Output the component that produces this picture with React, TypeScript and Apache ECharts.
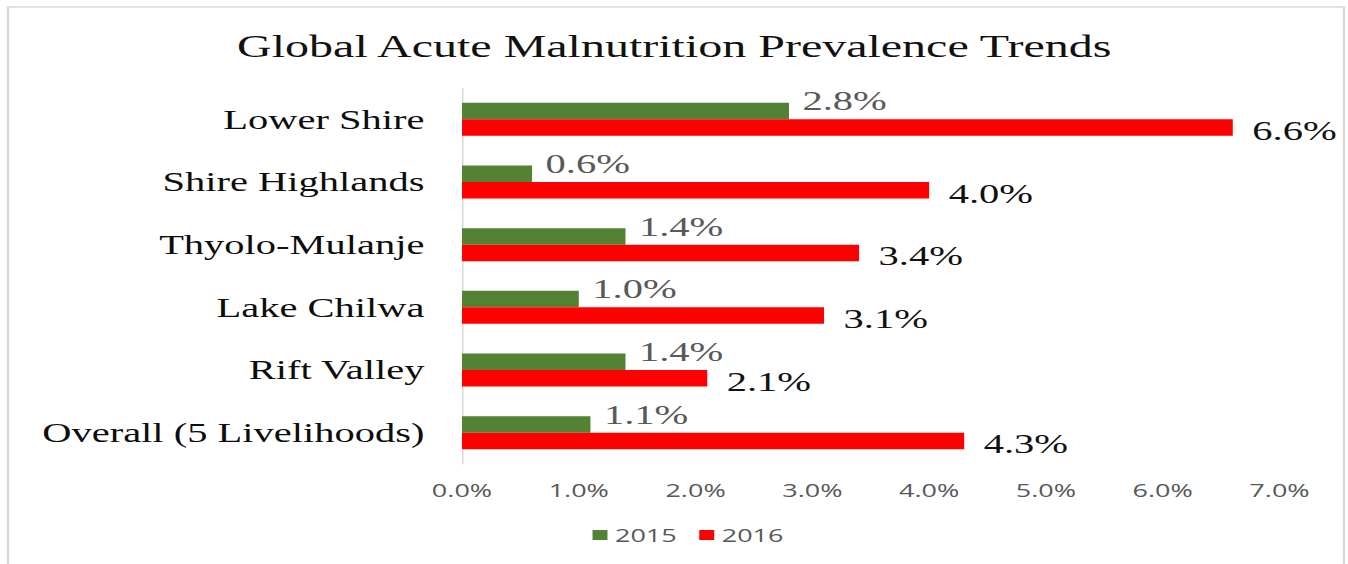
import React, { useEffect, useRef } from "react";
import * as echarts from "echarts";

const categories = [
  "Lower Shire",
  "Shire Highlands",
  "Thyolo-Mulanje",
  "Lake Chilwa",
  "Rift Valley",
  "Overall (5 Livelihoods)",
];
const values2015 = [2.8, 0.6, 1.4, 1.0, 1.4, 1.1];
const values2016 = [6.6, 4.0, 3.4, 3.1, 2.1, 4.3];
const seriesNames = ["2015", "2016"];
const xTicks = { min: 0, max: 7, interval: 1 };
const titleText = "Global Acute Malnutrition Prevalence Trends";

const PAGE_W = 1348;
const PAGE_H = 564;
const SX = 1.5; // horizontal stretch of the reference rendering
const W = PAGE_W / SX;

const pct = (v: number) => v.toFixed(1) + "%";

export default function App() {
  const ref = useRef<HTMLDivElement>(null);
  useEffect(() => {
    if (!ref.current) return;
    const chart = echarts.init(ref.current, undefined, { renderer: "svg" });
    chart.setOption({
      animation: false,
      backgroundColor: "#ffffff",
      title: {
        text: titleText,
        left: "center",
        top: 25,
        textStyle: {
          fontFamily: "Liberation Serif",
          fontSize: 32,
          fontWeight: "normal",
          color: "#111111",
        },
      },
      legend: {
        data: seriesNames,
        left: 390,
        top: 521,
        icon: "rect",
        itemWidth: 10,
        itemHeight: 10,
        itemGap: 15,
        textStyle: { fontFamily: "Open Sans", fontSize: 18, color: "#595959" },
      },
      grid: { left: 308, right: W - 1279 / SX, top: 88, bottom: PAGE_H - 464, containLabel: false },
      xAxis: {
        type: "value",
        min: xTicks.min,
        max: xTicks.max,
        interval: xTicks.interval,
        axisLine: { show: false },
        axisTick: { show: false },
        splitLine: { show: false },
        axisLabel: {
          formatter: (v: number) => pct(v),
          margin: 17,
          fontFamily: "Open Sans",
          fontSize: 18,
          color: "#595959",
        },
      },
      yAxis: {
        type: "category",
        data: categories,
        inverse: true,
        axisLine: { show: true, lineStyle: { color: "#d9d9d9", width: 1 } },
        axisTick: { show: false },
        axisLabel: {
          margin: 25,
          fontFamily: "Liberation Serif",
          fontSize: 27,
          color: "#0d0d0d",
        },
      },
      series: [
        {
          name: seriesNames[0],
          type: "bar",
          data: values2015,
          barWidth: 16.5,
          barGap: "0%",
          z: 2,
          itemStyle: { color: "#548235" },
          label: {
            show: true,
            position: "right",
            distance: 9,
            offset: [0, -10],
            formatter: (p: any) => pct(p.value),
            fontFamily: "Liberation Serif",
            fontSize: 27,
            color: "#595959",
          },
        },
        {
          name: seriesNames[1],
          type: "bar",
          data: values2016,
          barWidth: 16.5,
          barGap: "0%",
          z: 3,
          itemStyle: { color: "#ff0000" },
          label: {
            show: true,
            position: "right",
            distance: 13,
            offset: [0, 3],
            formatter: (p: any) => pct(p.value),
            fontFamily: "Liberation Serif",
            fontSize: 27,
            color: "#111111",
          },
        },
      ],
      graphic: [
        {
          type: "rect",
          shape: { x: 8 / SX, y: 7, width: (1344 - 8) / SX, height: 600 },
          style: { fill: "none", stroke: "#d9d9d9", lineWidth: 1.6 },
          silent: true,
        },
      ],
    });
    return () => chart.dispose();
  }, []);
  return (
    <div
      style={{
        position: "absolute",
        left: 0,
        top: 0,
        width: PAGE_W,
        height: PAGE_H,
        overflow: "hidden",
        background: "#ffffff",
      }}
    >
      <div
        ref={ref}
        style={{
          width: W,
          height: PAGE_H,
          transform: `scaleX(${SX})`,
          transformOrigin: "0 0",
        }}
      />
    </div>
  );
}
